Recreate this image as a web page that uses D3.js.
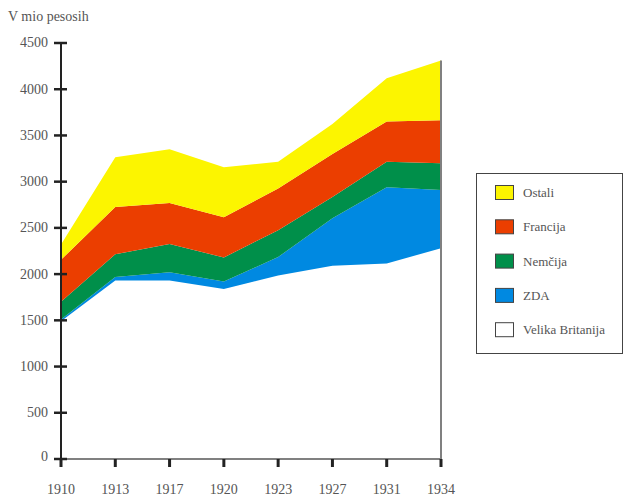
<!DOCTYPE html>
<html>
<head>
<meta charset="utf-8">
<script src="https://cdn.jsdelivr.net/npm/d3@7"></script>
<style>
  html, body { margin: 0; padding: 0; background: #fff; }
  svg { display: block; }
</style>
</head>
<body>
<svg id="chart" width="626" height="497"></svg>
<script>
const years = ["1910", "1913", "1917", "1920", "1923", "1927", "1931", "1934"];
const seriesNames = ["Velika Britanija", "ZDA", "Nemčija", "Francija", "Ostali"];
const britanija = [1490, 1930, 1930, 1840, 1985, 2090, 2115, 2280];
const zda = [20, 40, 90, 80, 200, 515, 825, 630];
const nemcija = [190, 245, 305, 260, 290, 230, 275, 290];
const francija = [455, 510, 445, 435, 450, 465, 435, 465];
const ostali = [165, 540, 580, 540, 290, 325, 470, 645];
const yTicks = [0, 500, 1000, 1500, 2000, 2500, 3000, 3500, 4000, 4500];
const colors = ["#ffffff", "#0089e1", "#008f4a", "#eb3e00", "#fcf500"];
const legendOrder = ["Ostali", "Francija", "Nemčija", "ZDA", "Velika Britanija"];

const seriesValues = [britanija, zda, nemcija, francija, ostali];
const table = years.map((y, i) => {
  const row = { year: y };
  seriesNames.forEach((n, k) => row[n] = seriesValues[k][i]);
  return row;
});

const FONT = "'Liberation Serif', 'Times New Roman', 'DejaVu Serif', serif";
const svg = d3.select("#chart")
  .attr("font-family", FONT);
const x = d3.scalePoint().domain(years).range([61, 441]);
const y = d3.scaleLinear().domain([0, 4500]).range([459, 43]);
const color = d3.scaleOrdinal().domain(seriesNames).range(colors);

const stacked = d3.stack().keys(seriesNames)(table);

const area = d3.area()
  .x(d => x(d.data.year))
  .y0(d => y(d[0]))
  .y1(d => y(d[1]));

svg.append("g").selectAll("path").data(stacked).join("path")
  .attr("d", area)
  .attr("fill", d => color(d.key));

// right edge line
const last = stacked[stacked.length - 1][years.length - 1];
svg.append("line")
  .attr("x1", x("1934")).attr("x2", x("1934"))
  .attr("y1", y(last[1])).attr("y2", y(0))
  .attr("stroke", "#808080").attr("stroke-width", 2);

// x axis baseline
svg.append("line")
  .attr("x1", x("1910")).attr("x2", x("1934"))
  .attr("y1", y(0)).attr("y2", y(0))
  .attr("stroke", "#808080").attr("stroke-width", 2);

// x ticks & labels
const xg = svg.append("g");
xg.selectAll("line").data(years).join("line")
  .attr("x1", d => x(d)).attr("x2", d => x(d))
  .attr("y1", y(0)).attr("y2", y(0) + 8)
  .attr("stroke", "#222").attr("stroke-width", 3);
xg.selectAll("text").data(years).join("text")
  .attr("x", d => x(d)).attr("y", 494)
  .attr("text-anchor", "middle")
  .attr("font-size", 14)
  .attr("fill", "#555")
  .text(d => d);

// y axis
svg.append("line")
  .attr("x1", 61).attr("x2", 61)
  .attr("y1", y(4500)).attr("y2", y(0) + 8)
  .attr("stroke", "#222").attr("stroke-width", 2);
const yg = svg.append("g");
yg.selectAll("line").data(yTicks).join("line")
  .attr("x1", 54).attr("x2", 67)
  .attr("y1", d => y(d)).attr("y2", d => y(d))
  .attr("stroke", "#222").attr("stroke-width", 2.5);
yg.selectAll("text").data(yTicks).join("text")
  .attr("x", 48).attr("y", d => y(d) - (d === 0 ? 2 : 0))
  .attr("dy", "0.32em")
  .attr("text-anchor", "end")
  .attr("font-size", 14)
  .attr("fill", "#555")
  .text(d => d);

svg.append("text")
  .attr("x", 8).attr("y", 21)
  .attr("font-size", 14)
  .attr("fill", "#555")
  .text("V mio pesosih");

// legend
const lg = svg.append("g");
lg.append("rect")
  .attr("x", 476.5).attr("y", 173.5).attr("width", 146).attr("height", 180)
  .attr("fill", "#fff").attr("stroke", "#444").attr("stroke-width", 1);
const items = lg.selectAll("g.item").data(legendOrder).join("g")
  .attr("class", "item")
  .attr("transform", (d, i) => `translate(0, ${193 + i * 34.3})`);
items.append("rect")
  .attr("x", 495.5).attr("y", -7.5).attr("width", 18).attr("height", 14)
  .attr("fill", d => color(d)).attr("stroke", "#444").attr("stroke-width", 1);
items.append("text")
  .attr("x", 523).attr("y", 4)
  .attr("font-size", 13)
  .attr("fill", "#555")
  .text(d => d);
</script>
</body>
</html>
